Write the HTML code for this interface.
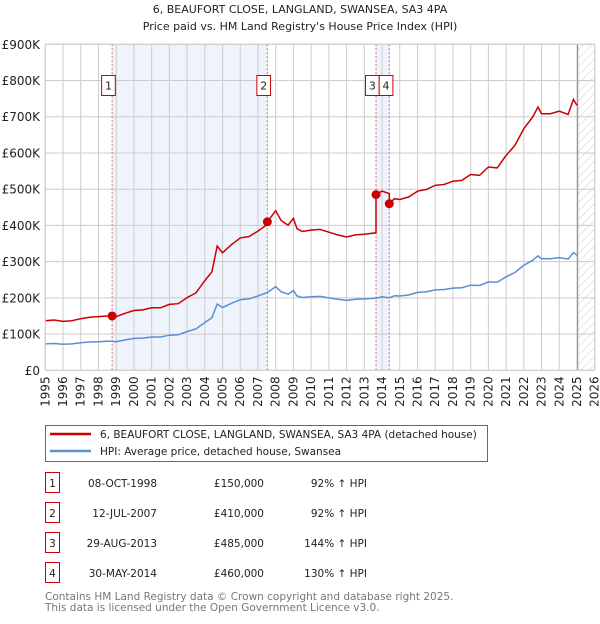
<!DOCTYPE html>
<html><head><meta charset="utf-8"><style>
body{margin:0;background:#fff;font-family:"DejaVu Sans","Liberation Sans",sans-serif}
svg text{font-family:"DejaVu Sans","Liberation Sans",sans-serif}
</style></head><body>
<svg id="chart" width="600" height="620" viewBox="0 0 600 620">
<defs><pattern id="hatch" width="6" height="6" patternUnits="userSpaceOnUse" patternTransform="rotate(45)"><line x1="0" y1="0" x2="0" y2="6" stroke="#ccc" stroke-width="1"/></pattern></defs>
<text x="300" y="13" text-anchor="middle" font-size="11" fill="#222">6, BEAUFORT CLOSE, LANGLAND, SWANSEA, SA3 4PA</text>
<text x="300" y="30" text-anchor="middle" font-size="11" fill="#222">Price paid vs. HM Land Registry's House Price Index (HPI)</text>
<g id="plot"></g>
<g>
<rect x="45.5" y="425.5" width="442" height="36" fill="#fff" stroke="#666"/>
<line x1="50" y1="434" x2="91" y2="434" stroke="#cc0000" stroke-width="2.5"/>
<text x="100" y="438" font-size="10.5" fill="#222">6, BEAUFORT CLOSE, LANGLAND, SWANSEA, SA3 4PA (detached house)</text>
<line x1="50" y1="451" x2="91" y2="451" stroke="#5b8fd4" stroke-width="2.5"/>
<text x="100" y="455" font-size="10.5" fill="#222">HPI: Average price, detached house, Swansea</text>
</g>
<g id="table" font-size="10.5" fill="#222"></g>
<text x="45" y="600" font-size="10.5" fill="#777">Contains HM Land Registry data © Crown copyright and database right 2025.</text>
<text x="45" y="611" font-size="10.5" fill="#777">This data is licensed under the Open Government Licence v3.0.</text>
</svg>
<script>
const hpiYears=[1995,1995.5,1996,1996.5,1997,1997.5,1998,1998.5,1998.77,1999,1999.5,2000,2000.5,2001,2001.5,2002,2002.5,2003,2003.5,2004,2004.4,2004.7,2005,2005.5,2006,2006.5,2007,2007.53,2008,2008.3,2008.7,2009,2009.2,2009.5,2010,2010.5,2011,2011.5,2012,2012.5,2013,2013.66,2014,2014.41,2014.7,2015,2015.5,2016,2016.5,2017,2017.5,2018,2018.5,2019,2019.5,2020,2020.5,2021,2021.5,2022,2022.5,2022.8,2023,2023.5,2024,2024.5,2024.8,2025.0];
const hpiValues=[73,74,72,73,76,78,79,80,80,79,84,88,89,92,92,97,98,107,114,132,145,183,173,185,195,197,205,215,231,217,210,220,205,201,203,204,200,196,193,196,197,199,203,200,206,205,208,215,217,222,223,227,228,235,234,244,243,258,270,290,304,316,308,308,311,307,325,318];
const saleLabels=["1","2","3","4"];
const saleDates=[1998.77,2007.53,2013.66,2014.41];
const salePrices=[150,410,485,460];
const saleDateText=["08-OCT-1998","12-JUL-2007","29-AUG-2013","30-MAY-2014"];
const salePriceText=["£150,000","£410,000","£485,000","£460,000"];
const saleHpiText=["92% ↑ HPI","92% ↑ HPI","144% ↑ HPI","130% ↑ HPI"];
const yTicks=[0,100,200,300,400,500,600,700,800,900];
const yTickLabels=["£0","£100K","£200K","£300K","£400K","£500K","£600K","£700K","£800K","£900K"];
const xYears=[1995,1996,1997,1998,1999,2000,2001,2002,2003,2004,2005,2006,2007,2008,2009,2010,2011,2012,2013,2014,2015,2016,2017,2018,2019,2020,2021,2022,2023,2024,2025,2026];

const X0=45.3,X1=594.7,Y0=370.3,Y1=44.3;
const xs=y=>X0+(y-1995)/(2026-1995)*(X1-X0);
const ys=v=>Y0-v/900*(Y0-Y1);
const NS="http://www.w3.org/2000/svg";
function mk(p,t,a){const e=document.createElementNS(NS,t);for(const k in a)e.setAttribute(k,a[k]);p.appendChild(e);return e;}
function hpiAt(d){for(let i=1;i<hpiYears.length;i++){if(d<=hpiYears[i]){const t=(d-hpiYears[i-1])/(hpiYears[i]-hpiYears[i-1]);return hpiValues[i-1]+t*(hpiValues[i]-hpiValues[i-1]);}}return hpiValues[hpiValues.length-1];}
const plot=document.getElementById('plot');
let s1=mk(plot,'rect',{x:xs(saleDates[0]),y:Y1,width:xs(saleDates[1])-xs(saleDates[0]),height:Y0-Y1,fill:'#eef3fc'});


let s2=mk(plot,'rect',{x:xs(saleDates[2]),y:Y1,width:xs(saleDates[3])-xs(saleDates[2]),height:Y0-Y1,fill:'#eef3fc'});


let hz=mk(plot,'rect',{x:xs(2025.04),y:Y1,width:X1-xs(2025.04),height:Y0-Y1,fill:'url(#hatch)'});


xYears.forEach(y=>{const l=mk(plot,'line',{x1:xs(y),x2:xs(y),y1:Y1,y2:Y0,stroke:'#ccc'});


const t=mk(plot,'text',{x:0,y:0,transform:`translate(${xs(y)+4},${Y0+6}) rotate(-90)`,'text-anchor':'end','font-size':'12',fill:'#222'});t.textContent=y;

});
yTicks.forEach((v,i)=>{const l=mk(plot,'line',{x1:X0,x2:X1,y1:ys(v),y2:ys(v),stroke:'#ccc'});


const t=mk(plot,'text',{x:40,y:ys(v)+4.5,'text-anchor':'end','font-size':'12',fill:'#222'});t.textContent=yTickLabels[i];

});
let vl=mk(plot,'line',{x1:xs(2025.04),x2:xs(2025.04),y1:Y1,y2:Y0,stroke:'#888'});


saleDates.forEach((d,i)=>{const l=mk(plot,'line',{x1:xs(d),x2:xs(d),y1:Y1,y2:Y0,stroke:'#e06666','stroke-dasharray':'2,2'});

});
let hp=hpiYears.map((y,i)=>xs(y).toFixed(1)+','+ys(hpiValues[i]).toFixed(1)).join(' ');
let hl=mk(plot,'polyline',{points:hp,fill:'none',stroke:'#5b8fd4','stroke-width':1.5});


function seg(d){let k=0;for(let i=0;i<saleDates.length;i++)if(d>=saleDates[i])k=i;return k;}
let pts=[];
const allD=[...hpiYears,...saleDates].sort((a,b)=>a-b);
allD.forEach(d=>{const k=seg(d);pts.push([d,hpiAt(d)*salePrices[k]/hpiAt(saleDates[k])]);});
let rp=[];for(let i=0;i<pts.length;i++){const d=pts[i][0];const si=saleDates.indexOf(d);if(si>0){rp.push([d,hpiAt(d)*salePrices[si-1]/hpiAt(saleDates[si-1])]);}rp.push(pts[i]);}
let rl=mk(plot,'polyline',{points:rp.map(p=>xs(p[0]).toFixed(1)+','+ys(p[1]).toFixed(1)).join(' '),fill:'none',stroke:'#cc0000','stroke-width':1.5});


let prevRight=-1e9;
saleDates.forEach((d,i)=>{const c=mk(plot,'circle',{cx:xs(d),cy:ys(salePrices[i]),r:4.5,fill:'#cc0000'});


let bx=xs(d)-10.5;if(bx<prevRight)bx=prevRight;prevRight=bx+13.7;
const g=mk(plot,'g',{});


mk(g,'rect',{x:bx,y:75.5,width:13.7,height:20,fill:'#fff',stroke:'#cc0000'});
const t=mk(g,'text',{x:bx+6.85,y:89.5,'text-anchor':'middle','font-size':'11',fill:'#222'});t.textContent=saleLabels[i];});
let fr=mk(plot,'rect',{x:X0,y:Y1,width:X1-X0,height:Y0-Y1,fill:'none',stroke:'#ccc'});


const tb=document.getElementById('table');
saleLabels.forEach((l,i)=>{const cy=483+i*30;const g=mk(tb,'g',{});


mk(g,'rect',{x:45.5,y:cy-10.5,width:14,height:20,fill:'none',stroke:'#cc0000'});
const a=mk(g,'text',{x:52.5,y:cy+4,'text-anchor':'middle'});a.textContent=l;
const b=mk(g,'text',{x:157,y:cy+4,'text-anchor':'end'});b.textContent=saleDateText[i];
const c=mk(g,'text',{x:264,y:cy+4,'text-anchor':'end'});c.textContent=salePriceText[i];
const e=mk(g,'text',{x:367,y:cy+4,'text-anchor':'end'});e.textContent=saleHpiText[i];});
</script>
</body></html>
